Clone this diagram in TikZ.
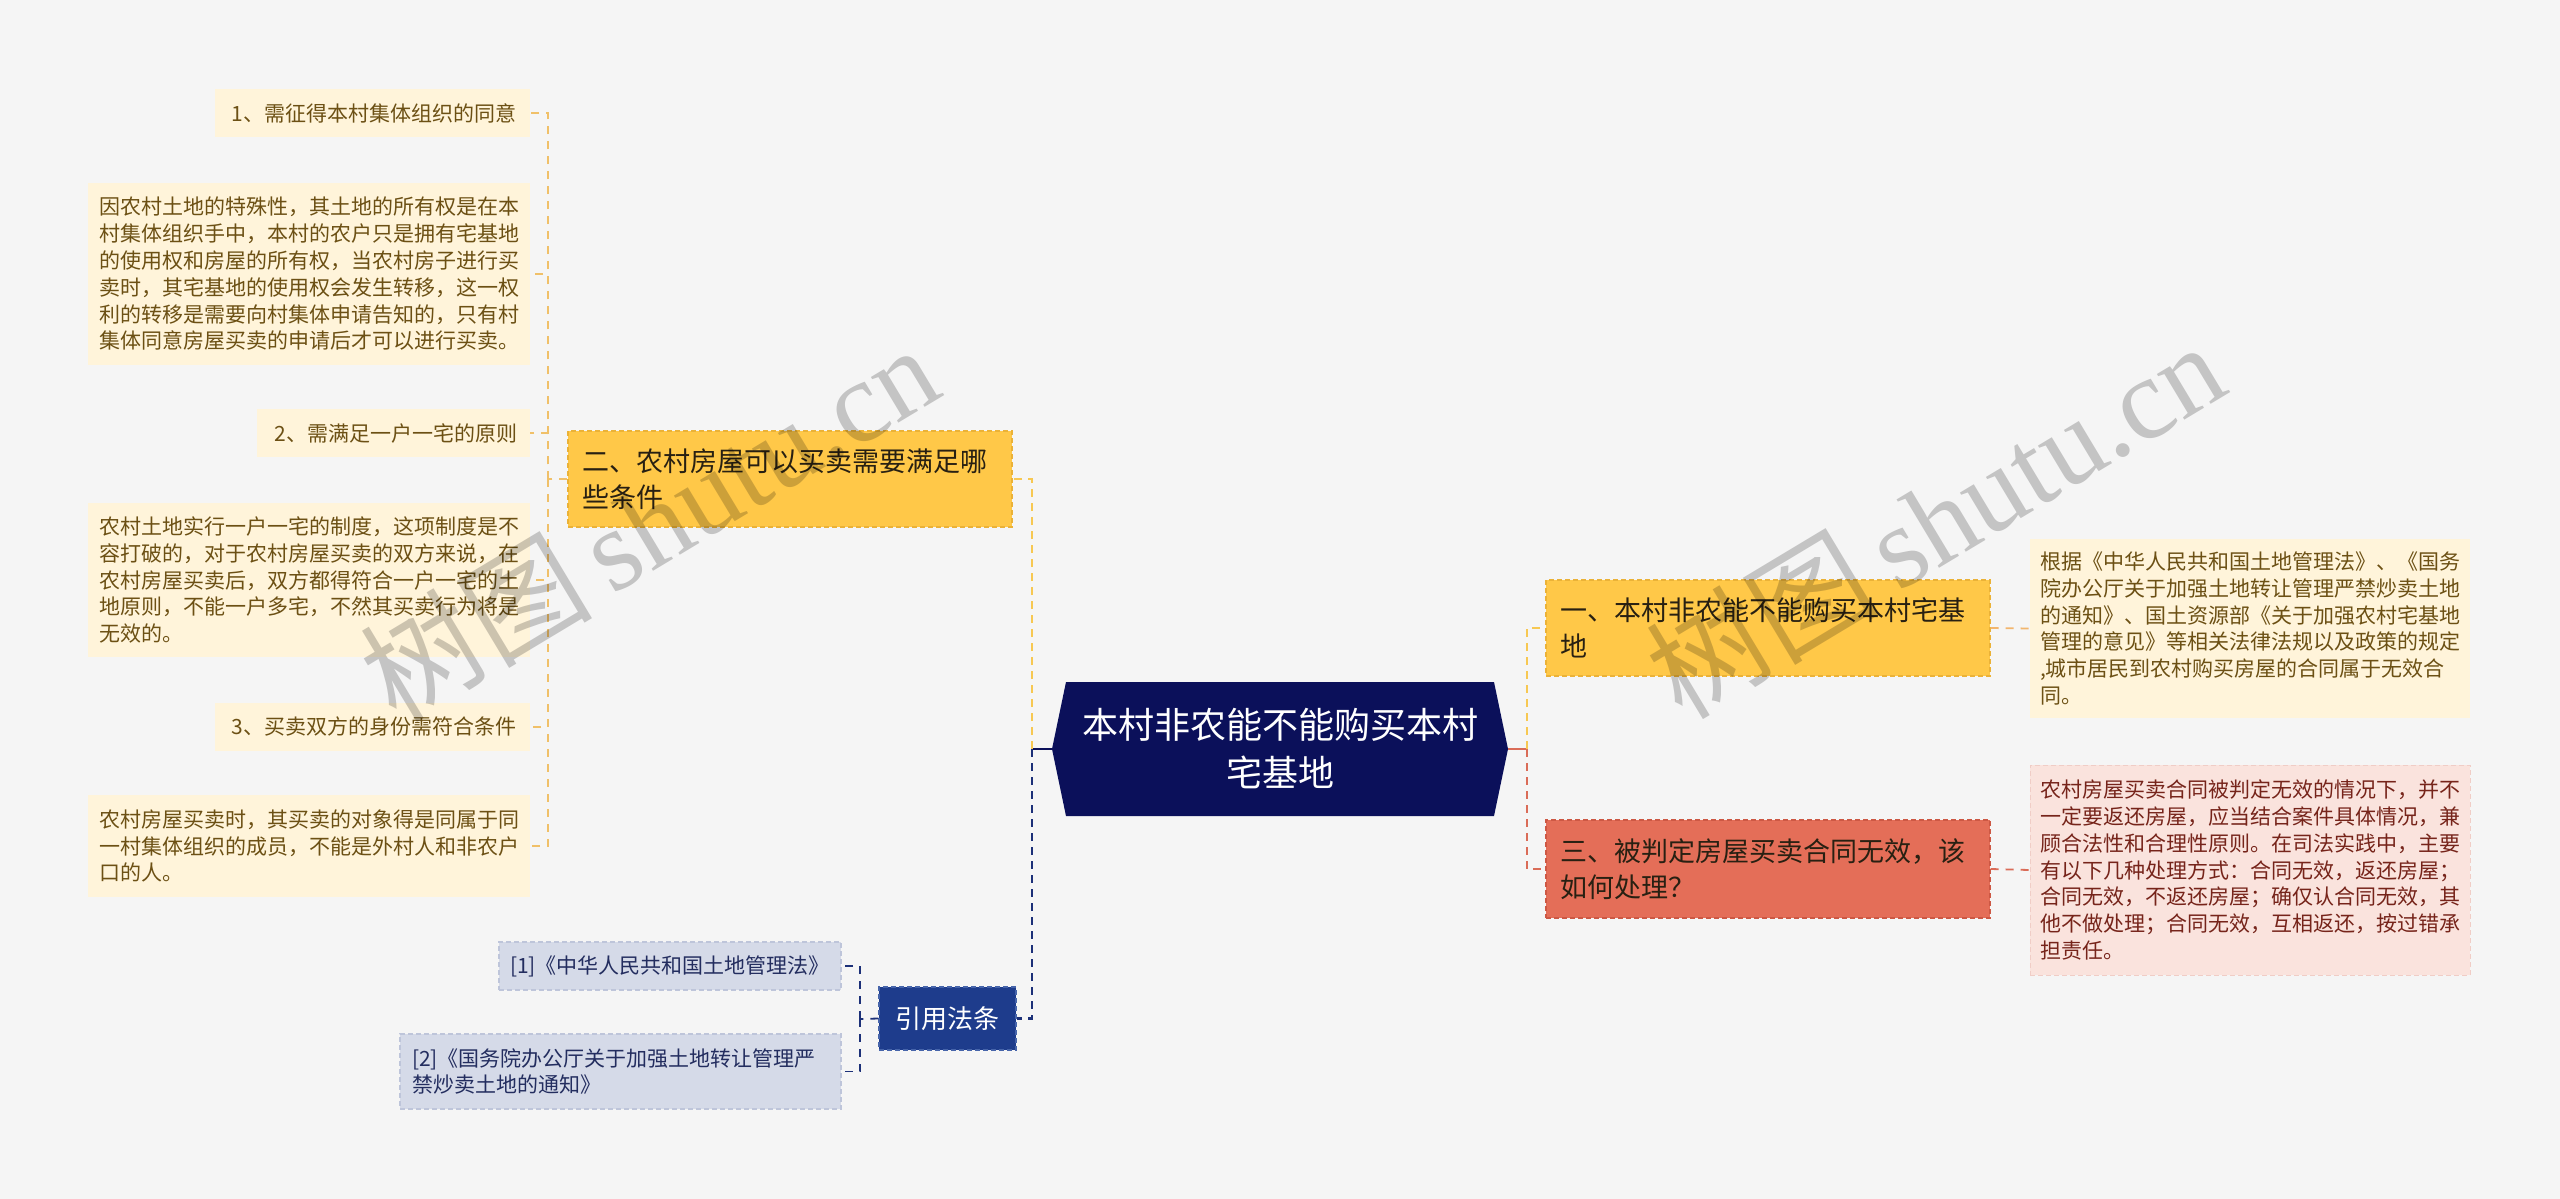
\documentclass[tikz,border=0pt]{standalone}
\usepackage{fontspec}
\setmainfont{Noto Sans CJK SC}
\newfontfamily\wmserif{Liberation Serif}
\definecolor{bg}{RGB}{245,245,245}
\definecolor{navy}{RGB}{11,16,90}
\definecolor{yelnode}{RGB}{255,200,72}
\definecolor{yelborder}{RGB}{235,178,55}
\definecolor{rednode}{RGB}{228,110,88}
\definecolor{redborder}{RGB}{205,88,68}
\definecolor{leafbg}{RGB}{255,244,218}
\definecolor{leaftext}{RGB}{108,80,20}
\definecolor{pinkbg}{RGB}{250,227,221}
\definecolor{pinkborder}{RGB}{240,205,198}
\definecolor{pinktext}{RGB}{118,36,26}
\definecolor{refbg}{RGB}{213,218,232}
\definecolor{refborder}{RGB}{190,197,218}
\definecolor{reftext}{RGB}{35,45,95}
\definecolor{refnode}{RGB}{30,60,140}
\definecolor{refnodeborder}{RGB}{70,100,170}
\definecolor{darktext}{RGB}{40,32,18}
\definecolor{cyel}{RGB}{247,200,82}
\definecolor{cleaf}{RGB}{240,192,105}
\definecolor{corange}{RGB}{242,182,110}
\definecolor{cred}{RGB}{218,108,88}
\definecolor{cblue}{RGB}{28,48,120}
\begin{document}
\begin{tikzpicture}[x=0.5pt,y=-0.5pt,
  mainconn/.style={line width=1.4pt, dash pattern=on 4pt off 3pt},
  leafconn/.style={line width=0.9pt, dash pattern=on 4pt off 3.5pt},
  leaf/.style={fill=leafbg, text=leaftext, inner sep=0pt,
    font=\fontsize{10.5}{13.4}\selectfont},
  pinkleaf/.style={fill=pinkbg, draw=pinkborder, line width=0.5pt, dash pattern=on 2.5pt off 1.5pt,
    text=pinktext, inner sep=0pt, font=\fontsize{10.5}{13.4}\selectfont},
  refleaf/.style={fill=refbg, draw=refborder, line width=0.6pt, dash pattern=on 2.5pt off 1.5pt,
    text=reftext, inner sep=0pt, font=\fontsize{10.5}{13.4}\selectfont},
  branchbox/.style={inner sep=0pt, line width=0.6pt, dash pattern=on 2.5pt off 1.5pt,
    text=darktext, font=\fontsize{13.5}{18}\selectfont, align=left,
    minimum width=222pt, text width=208pt},
  watermark/.style={text=black, opacity=0.2, rotate=31}
]
\fill[bg] (0,0) rectangle (2560,1199);
\useasboundingbox (0,0) rectangle (2560,1199);

% center node
\fill[navy] (1052,749) -- (1066,682) -- (1494,682) -- (1508,749) -- (1494,816) -- (1066,816) -- cycle;
\node[text=white, align=center, inner sep=0pt, font=\fontsize{18}{24}\selectfont] (c) at (1280,749)
  {本村非农能不能购买本村\\宅基地};
\coordinate (cL) at (1052,749);
\coordinate (cR) at (1508,749);

% main branches
\node[branchbox, fill=yelnode, draw=yelborder, minimum height=48pt] (n2) at (790,479)
  {二、农村房屋可以买卖需要满足哪\\些条件};
\node[branchbox, fill=yelnode, draw=yelborder, minimum height=48pt] (n1) at (1768,628)
  {一、本村非农能不能购买本村宅基\\地};
\node[branchbox, fill=rednode, draw=redborder, minimum height=49pt] (n3) at (1768,869)
  {三、被判定房屋买卖合同无效，该\\如何处理？};
\node[fill=refnode, draw=refnodeborder, line width=0.6pt, dash pattern=on 2.5pt off 1.5pt,
  text=white, inner sep=0pt, minimum width=68.5pt, minimum height=31.5pt,
  font=\fontsize{13}{16}\selectfont] (nref) at (947.5,1018.5) {引用法条};

% left leaves
\node[leaf, minimum width=157.5pt, minimum height=24pt, text width=144pt, align=right] (i1) at (372.5,113)
  {1、需征得本村集体组织的同意};
\node[leaf, minimum width=221pt, minimum height=91pt, text width=210pt, align=left] (p1) at (309,274)
  {因农村土地的特殊性，其土地的所有权是在本\\村集体组织手中，本村的农户只是拥有宅基地\\的使用权和房屋的所有权，当农村房子进行买\\卖时，其宅基地的使用权会发生转移，这一权\\利的转移是需要向村集体申请告知的，只有村\\集体同意房屋买卖的申请后才可以进行买卖。};
\node[leaf, minimum width=136.5pt, minimum height=24pt, text width=124pt, align=right] (i2) at (393.5,433)
  {2、需满足一户一宅的原则};
\node[leaf, minimum width=221pt, minimum height=77pt, text width=210pt, align=left] (p2) at (309,580)
  {农村土地实行一户一宅的制度，这项制度是不\\容打破的，对于农村房屋买卖的双方来说，在\\农村房屋买卖后，双方都得符合一户一宅的土\\地原则，不能一户多宅，不然其买卖行为将是\\无效的。};
\node[leaf, minimum width=157.5pt, minimum height=24pt, text width=144pt, align=right] (i3) at (372.5,727)
  {3、买卖双方的身份需符合条件};
\node[leaf, minimum width=221pt, minimum height=51pt, text width=210pt, align=left] (p3) at (309,846)
  {农村房屋买卖时，其买卖的对象得是同属于同\\一村集体组织的成员，不能是外村人和非农户\\口的人。};

% right leaves
\node[leaf, minimum width=220pt, minimum height=89.5pt, text width=210pt, align=left] (r1) at (2250,628.5)
  {根据《中华人民共和国土地管理法》、《国务\\院办公厅关于加强土地转让管理严禁炒卖土地\\的通知》、国土资源部《关于加强农村宅基地\\管理的意见》等相关法律法规以及政策的规定\\,城市居民到农村购买房屋的合同属于无效合\\同。};
\node[pinkleaf, minimum width=220pt, minimum height=105pt, text width=210pt, align=left] (r2) at (2250,870)
  {农村房屋买卖合同被判定无效的情况下，并不\\一定要返还房屋，应当结合案件具体情况，兼\\顾合法性和合理性原则。在司法实践中，主要\\有以下几种处理方式：合同无效，返还房屋；\\合同无效，不返还房屋；确仅认合同无效，其\\他不做处理；合同无效，互相返还，按过错承\\担责任。};

% references
\node[refleaf, minimum width=171pt, minimum height=24pt, align=center] (ref1) at (670,966)
  {[1]《中华人民共和国土地管理法》};
\node[refleaf, minimum width=220.5pt, minimum height=37.5pt, text width=208.5pt, align=left] (ref2) at (620.5,1071.5)
  {[2]《国务院办公厅关于加强土地转让管理严\\禁炒卖土地的通知》};

% connectors left of center
\coordinate (jL) at (1032,749);
\draw[navy, line width=1.4pt] (cL) -- (jL);
\draw[mainconn, cyel] (jL) |- (n2.east);
\draw[mainconn, cblue] (jL) |- (nref.east);

% connectors right of center
\coordinate (jR) at (1527,749);
\draw[cred, line width=1.4pt] (cR) -- (jR);
\draw[mainconn, cyel] (jR) |- (n1.west);
\draw[mainconn, cred] (jR) |- (n3.west);
\draw[leafconn, corange] (n1.east) -- (r1.west);
\draw[leafconn, cred] (n3.east) -- (r2.west);

% connectors of branch two
\coordinate (j2) at (548,479);
\draw[leafconn, cleaf] (n2.west) -- (j2);
\foreach \k in {i1,p1,i2,p2,i3,p3}{
  \draw[leafconn, cleaf] (j2) |- (\k.east);
}

% connectors of references
\coordinate (jref) at (860,1019);
\draw[leafconn, cblue] (nref.west) -- (jref);
\draw[leafconn, cblue] (jref) |- (ref1.east);
\draw[leafconn, cblue] (jref) |- (ref2.east);

% watermarks
\node[watermark] (wm1) at (649,522) {\fontsize{58}{60}\selectfont 树图\,{\wmserif shutu.cn}};
\node[watermark] (wm2) at (1935,519) {\fontsize{58}{60}\selectfont 树图\,{\wmserif shutu.cn}};
\end{tikzpicture}
\end{document}
